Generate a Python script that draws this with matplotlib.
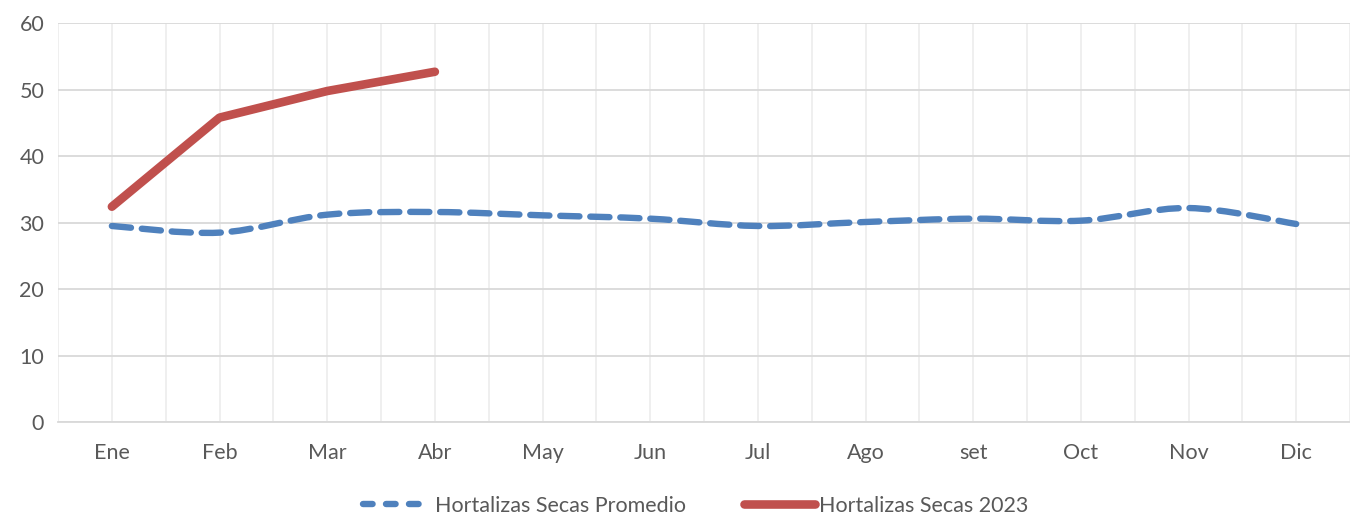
import numpy as np
import matplotlib
matplotlib.use("Agg")
import matplotlib.pyplot as plt
from matplotlib.path import Path
from matplotlib.patches import PathPatch
from matplotlib.lines import Line2D

# Data
months = ['Ene', 'Feb', 'Mar', 'Abr', 'May', 'Jun', 'Jul', 'Ago', 'set', 'Oct', 'Nov', 'Dic']
promedio = [29.5, 28.5, 31.2, 31.6, 31.1, 30.6, 29.5, 30.1, 30.6, 30.3, 32.2, 29.8]
values_2023 = [32.4, 45.8, 49.8, 52.7]
labels = ['Hortalizas Secas Promedio', 'Hortalizas Secas 2023']

blue = '#4F81BD'
red = '#C0504D'
text_gray = '#595959'
dash = (0, (3.0, 1.7))

plt.rcParams['font.family'] = ['Lato', 'DejaVu Sans']


def smooth_path(x, y):
    # Excel-style smoothed line: cubic Bezier through each point
    x = np.asarray(x, float)
    y = np.asarray(y, float)
    n = len(x)
    verts = [(x[0], y[0])]
    codes = [Path.MOVETO]
    for i in range(n - 1):
        p0 = (x[max(i - 1, 0)], y[max(i - 1, 0)])
        p1 = (x[i], y[i])
        p2 = (x[i + 1], y[i + 1])
        p3 = (x[min(i + 2, n - 1)], y[min(i + 2, n - 1)])
        c1 = (p1[0] + (p2[0] - p0[0]) / 6, p1[1] + (p2[1] - p0[1]) / 6)
        c2 = (p2[0] - (p3[0] - p1[0]) / 6, p2[1] - (p3[1] - p1[1]) / 6)
        verts += [c1, c2, p2]
        codes += [Path.CURVE4] * 3
    return Path(verts, codes)


fig = plt.figure(figsize=(13.5, 5.16), dpi=100)
ax = fig.add_axes([0.043, 0.182, 0.957, 0.773])

x = np.arange(len(months))
blue_patch = PathPatch(smooth_path(x, promedio), facecolor='none', edgecolor=blue,
                       linewidth=4.6, linestyle=dash, capstyle='round', zorder=3)
ax.add_patch(blue_patch)

ax.plot(x[:len(values_2023)], values_2023, color=red, linewidth=6.2,
        solid_capstyle='round', solid_joinstyle='round', zorder=4)

ax.set_xlim(-0.5, 11.5 - 6 / 108.4)
ax.set_ylim(0, 60)
ax.set_yticks(range(0, 61, 10))
ax.set_xticks(x)
ax.set_xticklabels(months)
ax.set_xticks(np.arange(-0.5, 12, 1), minor=True)

ax.grid(axis='y', color='#d9d9d9', linewidth=1.3)
ax.grid(axis='x', which='both', color='#ececec', linewidth=1.2)
ax.set_axisbelow(True)

for side in ['top', 'right', 'left']:
    ax.spines[side].set_visible(False)
ax.spines['bottom'].set_color('#d9d9d9')
ax.spines['bottom'].set_linewidth(1.3)

ax.tick_params(axis='both', which='both', length=0, labelsize=15.5, labelcolor=text_gray)
ax.tick_params(axis='x', pad=15)
ax.tick_params(axis='y', pad=10)

# Legend: two entries placed like the original (different handle widths)
h_blue = Line2D([], [], color=blue, linewidth=4.6, linestyle=(0, (1.5, 2.1)),
                dash_capstyle='round')
h_red = Line2D([], [], color=red, linewidth=6.2, solid_capstyle='round')
leg1 = fig.legend([h_blue], labels[:1], loc='center left', bbox_to_anchor=(363 / 1350, 0.02),
                  frameon=False, fontsize=15.5, handlelength=2.65, handletextpad=0.7,
                  borderpad=0, borderaxespad=0)
leg2 = fig.legend([h_red], labels[1:], loc='center left', bbox_to_anchor=(744 / 1350, 0.02),
                  frameon=False, fontsize=15.5, handlelength=3.3, handletextpad=0.2,
                  borderpad=0, borderaxespad=0)
for leg in (leg1, leg2):
    for t in leg.get_texts():
        t.set_color(text_gray)

fig.savefig('out.png', dpi=100)
